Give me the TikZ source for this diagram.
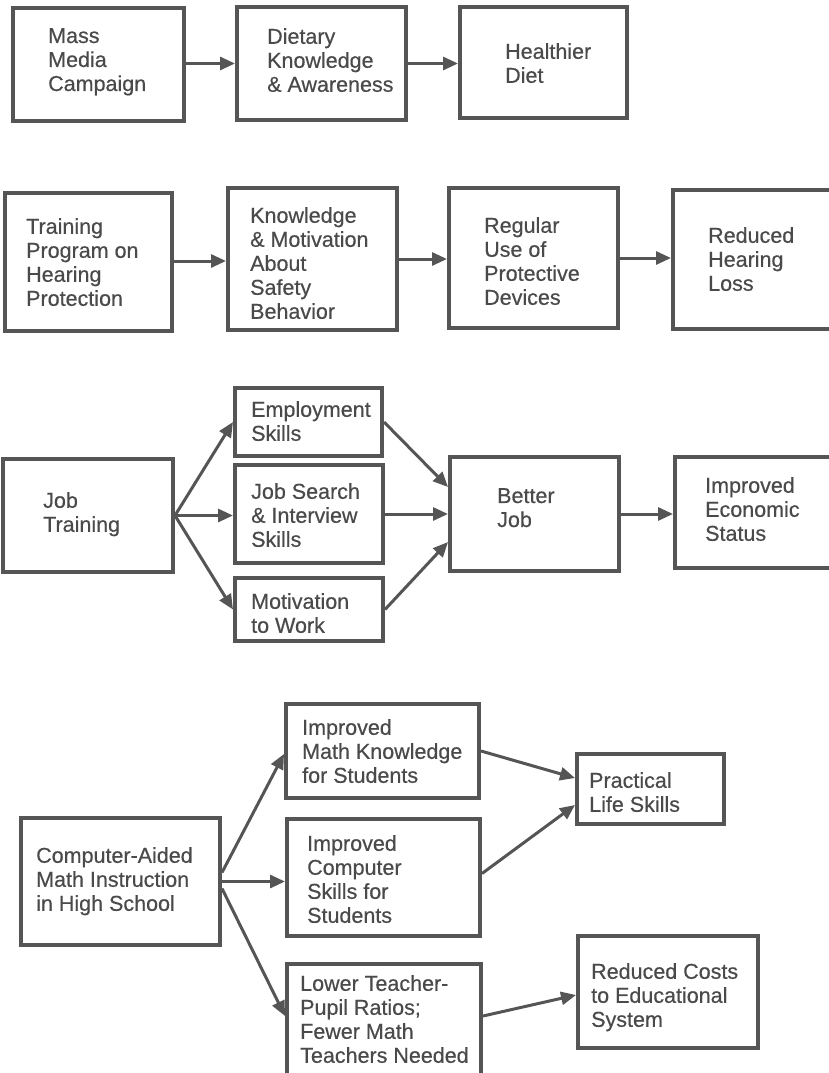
\documentclass[tikz,border=0pt]{standalone}
\usepackage{fontspec}
\setmainfont{Liberation Sans}
\newfontfamily\lblfont[FakeBold=0.5]{Liberation Sans}
\usetikzlibrary{arrows.meta}
\definecolor{ink}{HTML}{555555}
\definecolor{txtink}{HTML}{4A4A4A}
\tikzset{
  box/.style={draw=ink, line width=4pt, rectangle, inner sep=0pt},
  txt/.style={anchor=north west, align=left, inner sep=0pt, text=txtink,
    font=\lblfont\fontsize{21.5}{24}\selectfont},
  arr/.style={draw=ink, line width=3pt, -{Triangle[length=15pt,width=13pt]}}
}
\begin{document}
\begin{tikzpicture}[x=1pt,y=-1pt]
\useasboundingbox (0,0) rectangle (829,1073);
\clip (0,0) rectangle (829,1073);

% ---------- Row 1 ----------
\node[box, minimum width=171pt, minimum height=113pt] (mm) at (98.5,64.5) {};
\node[box, minimum width=169pt, minimum height=113pt] (dk) at (321.5,63.5) {};
\node[box, minimum width=167pt, minimum height=111pt] (hd) at (543.5,62.5) {};
\node[txt] (tmm) at (48,28) {Mass\\Media\\Campaign};
\node[txt] (tdk) at (267,28) {Dietary\\Knowledge\\\& Awareness};
\node[txt] (thd) at (505,43) {Healthier\\Diet};
\draw[arr] ([yshift=1pt]mm.east) -- ([yshift=1pt]mm.east -| dk.west);
\draw[arr] (dk.east) -- (dk.east -| hd.west);

% ---------- Row 2 ----------
\node[box, minimum width=167pt, minimum height=138pt] (tp) at (88.5,262) {};
\node[box, minimum width=169pt, minimum height=142pt] (km) at (312.5,259) {};
\node[box, minimum width=169pt, minimum height=140pt] (ru) at (533.5,258) {};
\node[box, minimum width=177pt, minimum height=139pt] (rh) at (761.5,259.5) {};
\node[txt] (ttp) at (26,218) {Training\\Program on\\Hearing\\Protection};
\node[txt] (tkm) at (250,207) {Knowledge\\\& Motivation\\About\\Safety\\Behavior};
\node[txt] (tru) at (484,217) {Regular\\Use of\\Protective\\Devices};
\node[txt] (trh) at (708,227) {Reduced\\Hearing\\Loss};
\draw[arr] ([yshift=1pt]tp.east) -- ([yshift=1pt]tp.east -| km.west);
\draw[arr] (km.east) -- (km.east -| ru.west);
\draw[arr] (ru.east) -- (ru.east -| rh.west);

% ---------- Row 3 ----------
\node[box, minimum width=170pt, minimum height=113pt] (jt) at (88,515.5) {};
\node[box, minimum width=147pt, minimum height=68pt] (es) at (308.5,422) {};
\node[box, minimum width=148pt, minimum height=98pt] (js) at (309,514) {};
\node[box, minimum width=148pt, minimum height=63pt] (mw) at (309,609.5) {};
\node[box, minimum width=169pt, minimum height=114pt] (bj) at (534.5,514) {};
\node[box, minimum width=175pt, minimum height=111pt] (ie) at (762.5,512.5) {};
\node[txt] (tjt) at (43,492) {Job\\Training};
\node[txt] (tes) at (251,401) {Employment\\Skills};
\node[txt] (tjs) at (251,483) {Job Search\\\& Interview\\Skills};
\node[txt] (tmw) at (251,593) {Motivation\\to Work};
\node[txt] (tbj) at (497,488) {Better\\Job};
\node[txt] (tie) at (705,477) {Improved\\Economic\\Status};
\draw[arr] (jt.east) -- (es.west);
\draw[arr] (jt.east) -- (jt.east -| js.west);
\draw[arr] (jt.east) -- (mw.west);
\draw[arr] (es.east) -- ([yshift=27pt]bj.west);
\draw[arr] (js.east) -- (js.east -| bj.west);
\draw[arr] (mw.east) -- ([yshift=-28pt]bj.west);
\draw[arr] (bj.east) -- (bj.east -| ie.west);

% ---------- Row 4 ----------
\node[box, minimum width=199pt, minimum height=127pt] (ca) at (120.5,881.5) {};
\node[box, minimum width=193pt, minimum height=94pt] (im) at (382.5,751) {};
\node[box, minimum width=193pt, minimum height=117pt] (ic) at (383.5,877.5) {};
\node[box, minimum width=194pt, minimum height=122pt] (lt) at (384,1025) {};
\node[box, minimum width=147pt, minimum height=70pt] (pl) at (650.5,789) {};
\node[box, minimum width=180pt, minimum height=112pt] (rc) at (668,992) {};
\node[txt] (tca) at (36,847) {Computer-Aided\\Math Instruction\\in High School};
\node[txt] (tim) at (302,719) {Improved\\Math Knowledge\\for Students};
\node[txt] (tic) at (307,835) {Improved\\Computer\\Skills for\\Students};
\node[txt] (tlt) at (300,975) {Lower Teacher-\\Pupil Ratios;\\Fewer Math\\Teachers Needed};
\node[txt] (tpl) at (589,772) {Practical\\Life Skills};
\node[txt] (trc) at (591,963) {Reduced Costs\\to Educational\\System};
\coordinate (lte) at (384,1016);
\draw[arr] ([yshift=9pt]ca.east) -- ([yshift=-3pt]im.west);
\draw[arr] (ca.east) -- (ca.east -| ic.west);
\draw[arr] ([yshift=-7pt]ca.east) -- (lte -| lt.west);
\draw[arr] (im.east) -- ([yshift=11pt]pl.west);
\draw[arr] ([yshift=4pt]ic.east) -- ([yshift=-16pt]pl.west);
\draw[arr] (lte -| lt.east) -- ([yshift=-3pt]rc.west);
\end{tikzpicture}
\end{document}
